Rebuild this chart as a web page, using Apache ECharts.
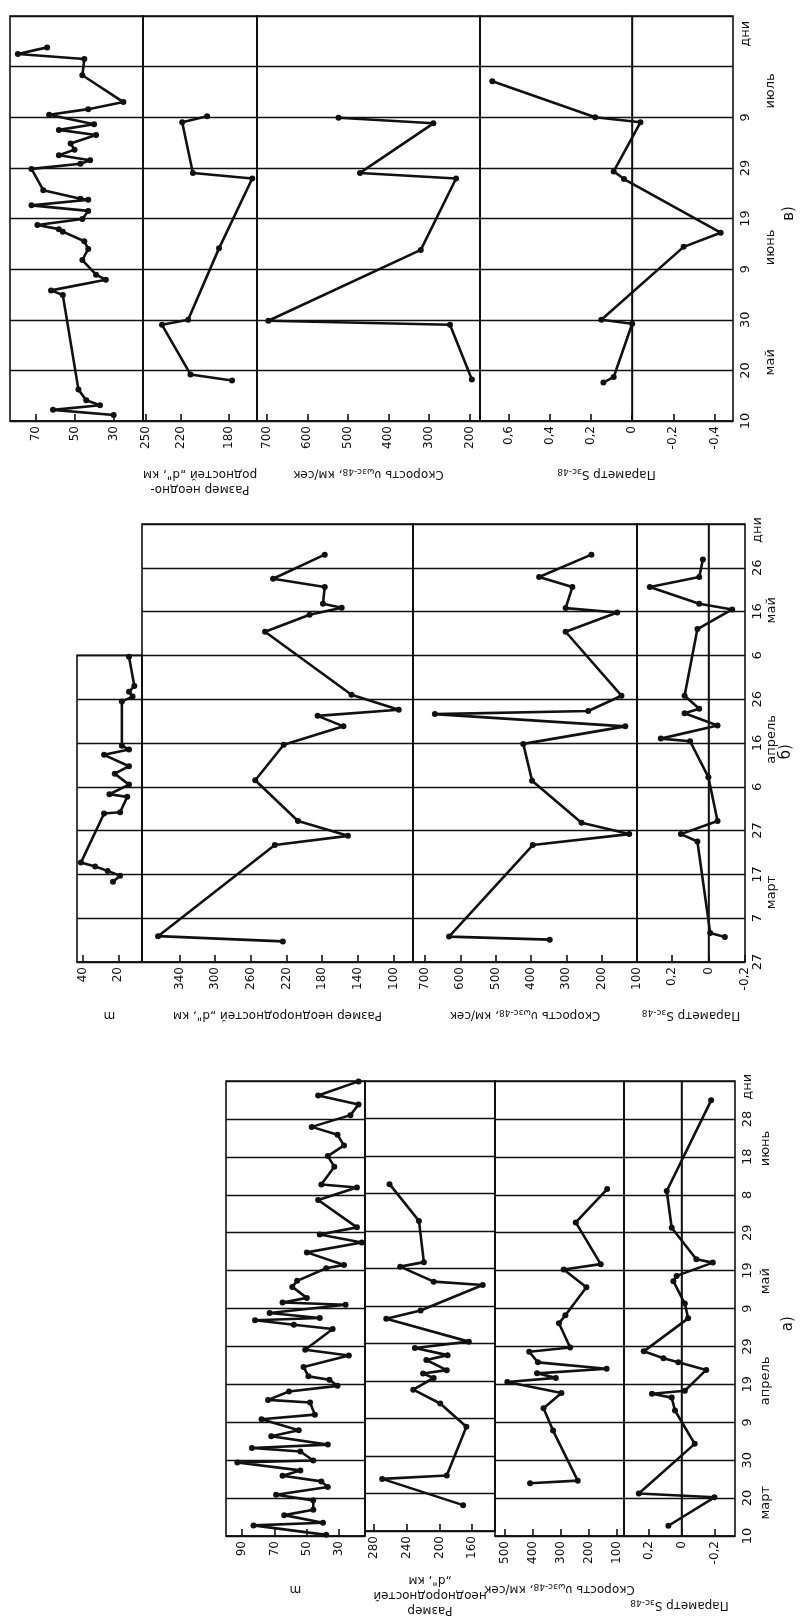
<!DOCTYPE html>
<html>
<head>
<meta charset="utf-8">
<title>Размер неоднородностей, скорость и параметр S</title>
<script src="https://cdn.jsdelivr.net/npm/echarts@6/dist/echarts.min.js"></script>
<style>
  html, body { margin: 0; padding: 0; background: #fff; }
  #chart { width: 801px; height: 1619px; }
</style>
</head>
<body>
<div id="chart"></div>
<script>
// ---------------- time axes (10-day steps) ----------------
const timeLabelsV = ['10', '20', '30', '9', '19', '29', '9', '', ''];
const timeLabelsB = ['27', '7', '17', '27', '6', '16', '26', '6', '16', '26', ''];
const timeLabelsA = ['10', '20', '30', '9', '19', '29', '9', '19', '29', '8', '18', '28', ''];

const monthsV = ['май', 'июнь', 'июль'];
const monthsVDay = [11.6, 34.3, 65.2];
const monthsB = ['март', 'апрель', 'май'];
const monthsBDay = [15.9, 50.8, 80.3];
const monthsA = ['март', 'апрель', 'май', 'июнь'];
const monthsADay = [8.8, 40.9, 67.2, 102.2];

// ---------------- panel в) (day 0 = 10 мая) ----------------
const vM_day = [1.2, 2.2, 3.1, 4.1, 6.2, 24.9, 25.8, 27.9, 28.9, 31.8, 34, 35.5, 37.4, 37.9, 38.7, 39.9, 41.5, 42.6, 43.7, 43.9, 45.6, 49.8, 50.8, 51.5, 52.5, 53.6, 54.8, 56.5, 57.5, 58.6, 60.5, 61.6, 63, 68.3, 71.5, 72.5, 73.8];
const vM_val = [30, 61, 37, 44, 48, 56, 62, 34, 39, 46, 43, 45, 56, 58, 69, 46, 43, 72, 43, 47, 66, 72, 47, 42, 58, 50, 52, 39, 58, 40, 63, 43, 25, 46, 45, 79, 64];
const vD_day = [8.0, 9.2, 19.0, 20.0, 34.1, 47.9, 49.0, 59.0, 60.2];
const vD_val = [177, 212, 236, 214, 188, 160, 210, 219, 198];
const vV_day = [8.2, 19.0, 19.8, 33.8, 47.9, 49.0, 58.8, 59.9];
const vV_val = [194, 248, 696, 320, 233, 470, 289, 523];
const vS_day = [7.6, 8.7, 19.2, 20.0, 34.4, 37.2, 47.8, 49.3, 59.0, 60.0, 67.1];
const vS_val = [0.14, 0.09, 0.0, 0.15, -0.25, -0.43, 0.04, 0.09, -0.04, 0.18, 0.68];

// ---------------- panel б) (day 0 = 27 февраля) ----------------
const bM_day = [18.3, 19.7, 20.8, 21.8, 22.7, 33.9, 34.2, 37.7, 38.3, 40.5, 43, 44.7, 47.3, 48.5, 49.4, 59.5, 60.6, 61.7, 63, 69.7];
const bM_val = [23, 19, 26, 33, 41, 28, 19, 15, 25, 14, 22, 14, 28, 14, 18, 18, 12, 14, 11, 14];
const bD_day = [4.7, 5.9, 26.7, 28.8, 32.2, 41.5, 49.6, 53.8, 56.2, 57.6, 61, 75.4, 79.3, 80.9, 81.8, 85.6, 87.5, 93];
const bD_val = [224, 364, 233, 151, 207, 255, 223, 156, 185, 94, 147, 244, 194, 158, 179, 177, 235, 177];
const bV_day = [5.1, 5.8, 26.7, 29.2, 31.8, 41.4, 49.8, 53.8, 56.6, 57.3, 60.8, 75.4, 79.8, 80.8, 85.6, 87.9, 93];
const bV_val = [347, 632, 395, 122, 257, 397, 422, 133, 672, 238, 144, 302, 156, 302, 283, 377, 229];
const bS_day = [5.7, 6.6, 27.5, 29.2, 32.2, 42.2, 50.4, 51, 54, 56.8, 57.8, 60.8, 76, 80.5, 81.8, 85.6, 87.9, 91.9];
const bS_val = [-0.09, -0.01, 0.06, 0.15, -0.05, 0, 0.1, 0.26, -0.05, 0.13, 0.05, 0.13, 0.06, -0.13, 0.05, 0.32, 0.05, 0.03];

// ---------------- panel а) (day 0 = 10 марта) ----------------
const aM_day = [0.3, 2.8, 3.5, 5.5, 6.9, 9.4, 10.9, 12.9, 14.4, 15.9, 17.3, 19.4, 19.9, 22.3, 23.2, 24.1, 26.3, 27.9, 30.8, 32, 35.2, 35.9, 38.1, 39.6, 41.2, 42.1, 44.6, 47.6, 49.1, 54.6, 55.7, 56.9, 57.5, 58.8, 61, 61.6, 62.8, 65.7, 67.3, 70.6, 71.5, 74.8, 77.4, 79.5, 81.4, 88.6, 91.9, 92.7, 97.4, 100.2, 103, 105.8, 107.9, 111, 113.8, 116.2, 119.9];
const aM_val = [38, 83, 40, 64, 46, 46, 69, 37, 41, 65, 54, 93, 46, 54, 84, 37, 72, 55, 78, 45, 48, 74, 61, 31, 36, 49, 52, 24, 51, 34, 58, 82, 42, 73, 26, 65, 50, 59, 56, 38, 27, 50, 16, 42, 19, 43, 19, 41, 33, 37, 27, 31, 47, 23, 18, 43, 18];
const aD_day = [6.9, 13.9, 14.8, 27.8, 34, 37.7, 40.8, 42, 42.9, 45.6, 46.9, 48.8, 50.5, 56.6, 58.8, 65.6, 66.5, 70.5, 71.7, 82.7, 92.5];
const aD_val = [171, 270, 191, 167, 199, 232, 207, 220, 191, 216, 190, 230, 164, 265, 223, 147, 207, 248, 219, 225, 261];
const aV_day = [13.9, 14.6, 27.8, 33.7, 37.7, 40.6, 41.7, 42.9, 44.1, 45.8, 48.6, 49.7, 56.1, 58.2, 65.6, 70.3, 71.7, 82.7, 91.5];
const aV_val = [410, 240, 328, 362, 298, 491, 318, 385, 137, 382, 413, 267, 307, 284, 209, 290, 158, 247, 135];
const aS_day = [2.7, 10.2, 11.2, 24.3, 33.1, 36.5, 37.5, 38.3, 43.8, 45.8, 46.9, 48.7, 57.4, 61.3, 67.2, 68.6, 72.1, 73, 81.3, 91, 114.9];
const aS_val = [0.08, -0.2, 0.26, -0.08, 0.04, 0.06, 0.18, -0.02, -0.15, 0.02, 0.11, 0.23, -0.04, -0.02, 0.05, 0.03, -0.19, -0.09, 0.06, 0.09, -0.18];

// ---------------- layout ----------------
const ink = '#111';
const fontFamily = 'DejaVu Sans';
const panelV = { top: 16, bottom: 421, tmax: 80 };
const panelB = { top: 524, bottom: 962, tmax: 100 };
const panelA = { top: 1081, bottom: 1536, tmax: 120 };

const grids = [], xAxes = [], yAxes = [], series = [];
const fmtNum = v => String(v).replace('.', ',');
const nameRich = {
  s: { fontSize: 9, fontFamily: fontFamily, color: ink, padding: [6, 0, 0, 0] }
};

function addSub(o) {
  const gi = grids.length;
  grids.push({
    left: o.left, top: o.top, width: o.right - o.left, height: o.bottom - o.top,
    show: true, borderColor: ink, borderWidth: 1.6, backgroundColor: 'transparent'
  });
  xAxes.push({
    type: 'value', gridIndex: gi, min: o.xmin, max: o.xmax, inverse: true, position: 'bottom',
    axisLine: { show: true, lineStyle: { color: ink, width: 1.6 } },
    axisTick: { show: true, inside: true, length: 7, customValues: o.ticks, lineStyle: { color: ink, width: 1.6 } },
    axisLabel: { show: true, customValues: o.ticks, rotate: 90, formatter: fmtNum, color: ink, fontSize: 12, fontFamily: fontFamily, margin: 5 },
    splitLine: { show: false },
    name: o.name || '', nameLocation: 'middle', nameRotate: 180, nameGap: o.nameGap || 48,
    nameTextStyle: { color: ink, fontSize: 12, fontFamily: fontFamily, lineHeight: 15, rich: nameRich }
  });
  yAxes.push({
    type: 'value', gridIndex: gi, min: 0, max: o.tmax, interval: 10, position: 'right',
    axisLine: { show: true, lineStyle: { color: ink, width: 1.6 } },
    axisTick: { show: false },
    axisLabel: {
      show: !!o.timeLabels, rotate: 90, margin: 6, color: ink, fontSize: 13, fontFamily: fontFamily,
      formatter: v => (o.timeLabels ? (o.timeLabels[Math.round(v / 10)] || '') : '')
    },
    splitLine: { show: true, lineStyle: { color: ink, width: 1.4 } }
  });
  const s = {
    type: 'line', xAxisIndex: gi, yAxisIndex: gi,
    data: o.days.map((d, i) => [o.vals[i], d]),
    symbol: 'circle', symbolSize: 6, itemStyle: { color: ink },
    lineStyle: { color: ink, width: 2.6 }, silent: true, animation: false
  };
  if (o.zero) {
    s.markLine = {
      silent: true, symbol: 'none', label: { show: false }, animation: false,
      lineStyle: { color: ink, width: 1.4, type: 'solid' },
      data: [{ xAxis: 0 }]
    };
  }
  series.push(s);
}

// panel в)
addSub({ left: 10, right: 143, top: panelV.top, bottom: panelV.bottom, tmax: 80,
  xmin: 15, xmax: 83, ticks: [30, 50, 70], days: vM_day, vals: vM_val });
addSub({ left: 143, right: 257, top: panelV.top, bottom: panelV.bottom, tmax: 80,
  xmin: 156, xmax: 252, ticks: [180, 220, 250], name: 'Размер неодно-\nродностей „d", км', nameGap: 46,
  days: vD_day, vals: vD_val });
addSub({ left: 257, right: 480, top: panelV.top, bottom: panelV.bottom, tmax: 80,
  xmin: 174, xmax: 724, ticks: [200, 300, 400, 500, 600, 700], name: 'Скорость υ{s|ωзс-48}, км/сек', nameGap: 46,
  days: vV_day, vals: vV_val });
addSub({ left: 480, right: 733, top: panelV.top, bottom: panelV.bottom, tmax: 80,
  xmin: -0.49, xmax: 0.74, ticks: [-0.4, -0.2, 0, 0.2, 0.4, 0.6], name: 'Параметр S{s|зс-48}', nameGap: 46,
  days: vS_day, vals: vS_val, timeLabels: timeLabelsV, zero: true });

// panel б)
const bMTop = panelB.bottom - 0.7 * (panelB.bottom - panelB.top);
addSub({ left: 77, right: 142, top: bMTop, bottom: panelB.bottom, tmax: 70,
  xmin: 6.7, xmax: 43.2, ticks: [20, 40], name: 'm', nameGap: 46, days: bM_day, vals: bM_val });
addSub({ left: 142, right: 413, top: panelB.top, bottom: panelB.bottom, tmax: 100,
  xmin: 78, xmax: 382, ticks: [100, 140, 180, 220, 260, 300, 340], name: 'Размер неоднородностей „d", км', nameGap: 46,
  days: bD_day, vals: bD_val });
addSub({ left: 413, right: 637, top: panelB.top, bottom: panelB.bottom, tmax: 100,
  xmin: 100, xmax: 734, ticks: [100, 200, 300, 400, 500, 600, 700], name: 'Скорость υ{s|ωзс-48}, км/сек', nameGap: 46,
  days: bV_day, vals: bV_val });
addSub({ left: 637, right: 745, top: panelB.top, bottom: panelB.bottom, tmax: 100,
  xmin: -0.2, xmax: 0.39, ticks: [-0.2, 0, 0.2], name: 'Параметр S{s|зс-48}', nameGap: 46,
  days: bS_day, vals: bS_val, timeLabels: timeLabelsB, zero: true });

// panel а)
addSub({ left: 226, right: 365, top: panelA.top, bottom: panelA.bottom, tmax: 120,
  xmin: 14, xmax: 100, ticks: [30, 50, 70, 90], name: 'm', nameGap: 46, days: aM_day, vals: aM_val });
addSub({ left: 365, right: 495, top: panelA.top, bottom: panelA.bottom, tmax: 120,
  xmin: 132, xmax: 291, ticks: [160, 200, 240, 280], name: 'Размер\nнеоднородностей\n„d", км', nameGap: 42,
  days: aD_day, vals: aD_val });
addSub({ left: 495, right: 624, top: panelA.top, bottom: panelA.bottom, tmax: 120,
  xmin: 75, xmax: 535, ticks: [100, 200, 300, 400, 500], name: 'Скорость υ{s|ωзс-48}, км/сек', nameGap: 46,
  days: aV_day, vals: aV_val });
addSub({ left: 624, right: 735, top: panelA.top, bottom: panelA.bottom, tmax: 120,
  xmin: -0.325, xmax: 0.35, ticks: [-0.2, 0, 0.2], name: 'Параметр S{s|зс-48}', nameGap: 62,
  days: aS_day, vals: aS_val, timeLabels: timeLabelsA, zero: true });

// ---------------- rotated free texts: months, "дни", panel letters ----------------
function ty(p, d) { return p.bottom - d / p.tmax * (p.bottom - p.top); }
function vtext(text, x, y, size) {
  return {
    type: 'text', x: x, y: y, rotation: Math.PI / 2, silent: true,
    style: { text: text, fill: ink, fontSize: size, fontFamily: fontFamily,
      align: 'center', verticalAlign: 'middle', textAlign: 'center', textVerticalAlign: 'middle' }
  };
}
const graphics = [];
monthsV.forEach((m, i) => graphics.push(vtext(m, 771, ty(panelV, monthsVDay[i]), 13)));
monthsB.forEach((m, i) => graphics.push(vtext(m, 772, ty(panelB, monthsBDay[i]), 13)));
monthsA.forEach((m, i) => graphics.push(vtext(m, 766, ty(panelA, monthsADay[i]), 13)));
graphics.push(vtext('дни', 746, ty(panelV, 76.5), 13));
graphics.push(vtext('дни', 758, ty(panelB, 98.6), 13));
graphics.push(vtext('дни', 748, ty(panelA, 118.5), 13));
graphics.push(vtext('в)', 789, ty(panelV, 41), 15));
graphics.push(vtext('б)', 786, ty(panelB, 48), 15));
graphics.push(vtext('а)', 788, ty(panelA, 56), 15));

const chart = echarts.init(document.getElementById('chart'), null, { renderer: 'canvas' });
chart.setOption({
  backgroundColor: '#fff',
  animation: false,
  textStyle: { fontFamily: fontFamily },
  grid: grids,
  xAxis: xAxes,
  yAxis: yAxes,
  series: series,
  graphic: graphics
});
</script>
</body>
</html>
